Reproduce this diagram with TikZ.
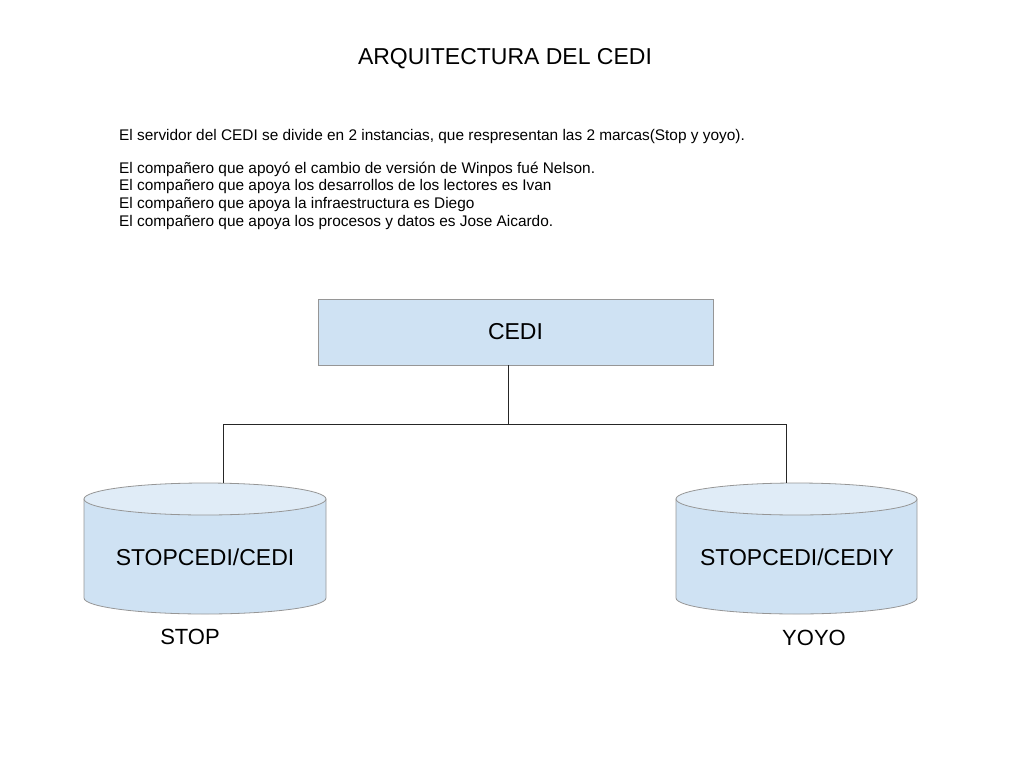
\documentclass[tikz,border=0pt]{standalone}
\usepackage{fontspec}
\setmainfont{Liberation Sans}
\definecolor{boxblue}{RGB}{207,226,243}
\definecolor{topblue}{RGB}{224,236,247}
\definecolor{edgegray}{RGB}{150,150,150}
\tikzset{
  cedibox/.style={draw=edgegray, fill=boxblue, line width=0.8pt, minimum width=395pt, minimum height=66pt, inner sep=0pt, font=\fontsize{23}{27}\selectfont},
  cylarea/.style={minimum width=242pt, minimum height=131pt, inner sep=0pt},
  cylbody/.style={draw=edgegray, fill=boxblue, line width=0.8pt},
  cyltop/.style={draw=edgegray, fill=topblue, line width=0.8pt},
  bigtext/.style={font=\fontsize{23}{27}\selectfont, inner sep=0pt},
  labeltext/.style={font=\fontsize{22}{26}\selectfont, inner sep=0pt},
  wire/.style={draw=black!85, line width=0.9pt}
}
\begin{document}
\begin{tikzpicture}[x=1pt,y=-1pt]
\useasboundingbox (0,0) rectangle (1024,768);
\node[font=\fontsize{23}{27}\selectfont, inner sep=0pt] (title) at (505,59) {ARQUITECTURA DEL CEDI};
\node[anchor=north west, align=left, inner sep=0pt, font=\fontsize{15.4}{17.6}\selectfont] (desc) at (119,129)
 {El servidor del CEDI se divide en 2 instancias, que respresentan las 2 marcas(Stop y yoyo).\\[15.4pt]
  El compañero que apoyó el cambio de versión de Winpos fué Nelson.\\
  El compañero que apoya los desarrollos de los lectores es Ivan\\
  El compañero que apoya la infraestructura es Diego\\
  El compañero que apoya los procesos y datos es Jose Aicardo.};
\node[cedibox] (cedi) at (515.5,332) {CEDI};
% cylinders
\node[cylarea] (stopc) at (205,548.5) {};
\node[cylarea] (yoyoc) at (796.5,548.5) {};
\path[cylbody] (84,499) -- (84,598) arc[start angle=180, end angle=360, x radius=121pt, y radius=16pt] -- (326,499) -- cycle;
\path[cyltop] (205,499) ellipse[x radius=121pt, y radius=16pt];
\path[cylbody] (676,499) -- (676,598) arc[start angle=180, end angle=360, x radius=120.5pt, y radius=16pt] -- (917,499) -- cycle;
\path[cyltop] (796.5,499) ellipse[x radius=120.5pt, y radius=16pt];
\node[bigtext] (stoptxt) at (205,557) {STOPCEDI/CEDI};
\node[bigtext] (yoyotxt) at (797,557) {STOPCEDI/CEDIY};
\node[labeltext] (stoplbl) at (190,637) {STOP};
\node[labeltext] (yoyolbl) at (814,638) {YOYO};
% connectors
\coordinate (junction) at (508,424);
\coordinate (lefttop) at (223,483);
\coordinate (righttop) at (786,483);
\draw[wire] (cedi.south -| junction) -- (junction);
\draw[wire] (lefttop) -- (lefttop |- junction) -- (righttop |- junction) -- (righttop);
\end{tikzpicture}
\end{document}
